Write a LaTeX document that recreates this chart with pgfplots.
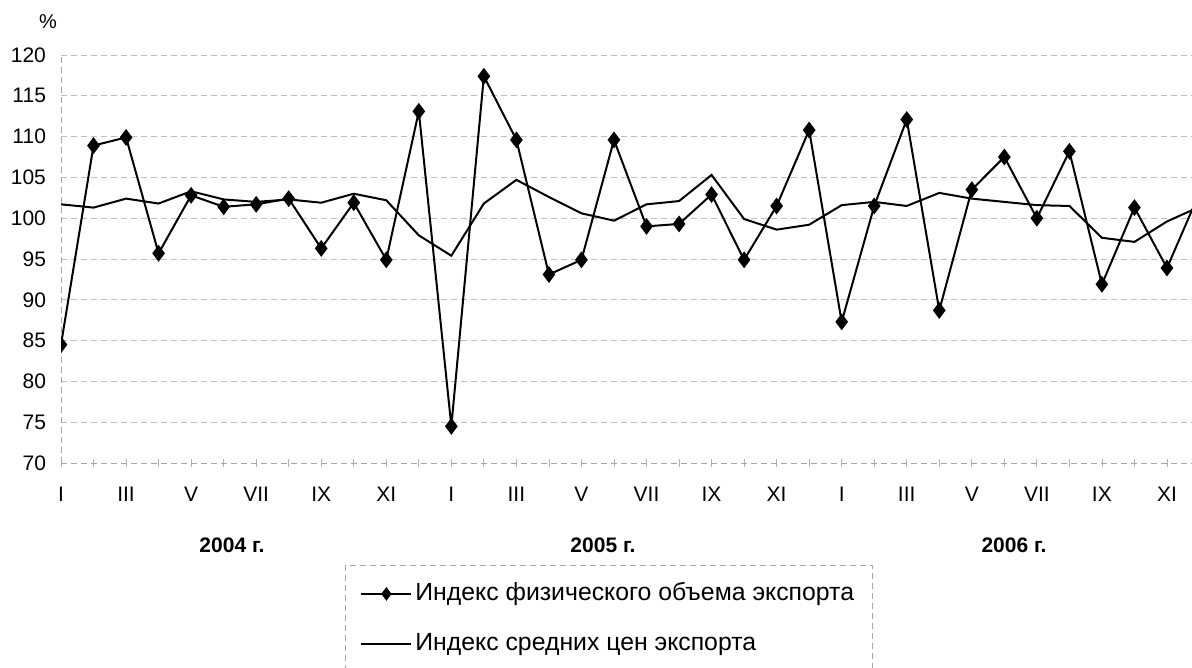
\documentclass[border=0pt]{standalone}
\usepackage{fontspec}
\setmainfont{Liberation Sans}
\usepackage{pgfplots}
\pgfplotsset{compat=1.18}
\pgfplotstableread{
idx vol price
0 84.5 101.7
1 108.9 101.3
2 109.9 102.4
3 95.7 101.8
4 102.8 103.3
5 101.4 102.3
6 101.7 102.0
7 102.4 102.3
8 96.3 101.9
9 101.9 103.0
10 94.9 102.2
11 113.1 97.9
12 74.5 95.4
13 117.4 101.8
14 109.6 104.7
15 93.1 102.6
16 94.9 100.6
17 109.6 99.7
18 99.0 101.7
19 99.3 102.1
20 102.9 105.3
21 94.9 99.9
22 101.5 98.6
23 110.8 99.2
24 87.3 101.6
25 101.5 102.0
26 112.1 101.5
27 88.7 103.1
28 103.5 102.4
29 107.5 102.0
30 100.0 101.6
31 108.2 101.5
32 91.9 97.6
33 101.3 97.1
34 93.9 99.6
35 103.1 101.4
}\datatable
\begin{document}
\begin{tikzpicture}
\path[use as bounding box] (0pt,0pt) rectangle (596pt,-334pt);
\begin{axis}[
  at={(30.5pt,-231.5pt)}, anchor=south west,
  scale only axis, width=565.5pt, height=204pt,
  xmin=0, xmax=34.77, ymin=70, ymax=120,
  clip=true, clip marker paths=true,
  axis x line*=bottom, axis y line*=left,
  axis line style={-, gray!70, densely dashed, thin},
  ytick={70,75,...,120},
  ymajorgrids, grid style={gray!50, densely dashed, thin},
  ytick style={draw=none},
  yticklabel style={xshift=-2pt},
  xtick={0,2,...,34},
  xticklabels={I,III,V,VII,IX,XI,I,III,V,VII,IX,XI,I,III,V,VII,IX,XI},
  minor xtick={1,3,...,35},
  xtick style={gray!60, thin, solid},
  major tick length=4pt, minor tick length=4pt, tick align=center,
  xticklabel style={yshift=-6.5pt},
  /pgf/number format/assume math mode=true,
  tick label style={font=\fontsize{10.5}{12}\selectfont},
  legend cell align=left,
  legend image code/.code={\draw[mark repeat=2,mark phase=2,#1,mark size=2.6pt] plot coordinates {(0pt,0pt) (12.5pt,0pt) (25pt,0pt)};},
  legend style={
    at={(0.2511,-0.25)}, anchor=north west,
    draw=gray!70, densely dashed,
    font=\fontsize{12.4}{14}\selectfont,
    inner xsep=7.5pt, inner ysep=7pt,
    row sep=10.5pt,
    nodes={inner sep=1.5pt, text height=9pt, text depth=2.5pt},
  },
]
\addplot[black, solid, line width=1pt, mark=diamond*, mark size=3.4pt, mark options={solid, fill=black}]
  table[x=idx, y=vol] {\datatable};
\addlegendentry{Индекс физического объема экспорта}
\addplot[black, solid, line width=1pt, no marks]
  table[x=idx, y=price] {\datatable};
\addlegendentry{Индекс средних цен экспорта}
\end{axis}
\node[font=\fontsize{10}{12}\selectfont] at (24pt,-11pt) {\%};
\node[font=\bfseries\fontsize{10.5}{12}\selectfont] at (116pt,-272.5pt) {2004 г.};
\node[font=\bfseries\fontsize{10.5}{12}\selectfont] at (301.5pt,-272.5pt) {2005 г.};
\node[font=\bfseries\fontsize{10.5}{12}\selectfont] at (507pt,-272.5pt) {2006 г.};
\end{tikzpicture}
\end{document}
